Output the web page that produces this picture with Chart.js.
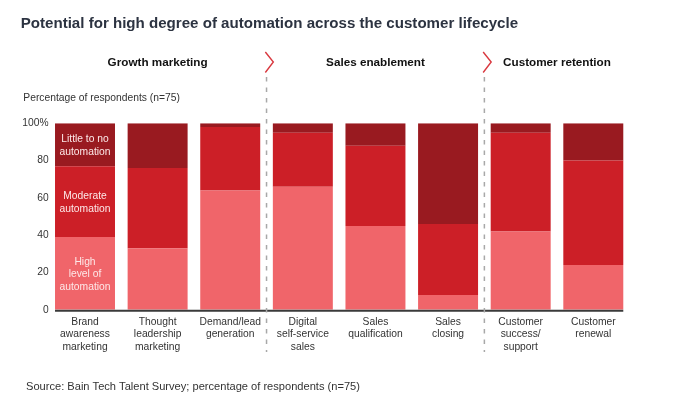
<!DOCTYPE html>
<html>
<head>
<meta charset="utf-8">
<script src="https://cdn.jsdelivr.net/npm/chart.js@4/dist/chart.umd.min.js"></script>
<style>
  html, body { margin: 0; padding: 0; background: #fff; }
  #wrap { width: 676px; height: 412px; position: relative; }
</style>
</head>
<body>
<div id="wrap"><canvas id="c" width="676" height="412"></canvas></div>
<script>
// ---- data ----
const titleText = "Potential for high degree of automation across the customer lifecycle";
const categories = [
  ["Brand", "awareness", "marketing"],
  ["Thought", "leadership", "marketing"],
  ["Demand/lead", "generation"],
  ["Digital", "self-service", "sales"],
  ["Sales", "qualification"],
  ["Sales", "closing"],
  ["Customer", "success/", "support"],
  ["Customer", "renewal"]
];
const seriesNames = ["High level of automation", "Moderate automation", "Little to no automation"];
const seriesLabelLines = [["High", "level of", "automation"], ["Moderate", "automation"], ["Little to no", "automation"]];
const highLevel = [39, 33, 64, 66, 45, 8, 42, 24];
const moderate = [38, 43, 34, 29, 43, 38, 53, 56];
const littleToNone = [23, 24, 2, 5, 12, 54, 5, 20];
const groupNames = ["Growth marketing", "Sales enablement", "Customer retention"];
const groupFirst = [0, 3, 6];
const groupLast = [2, 5, 7];
const yTickLabels = ["0", "20", "40", "60", "80", "100%"];
const yAxisNote = "Percentage of respondents (n=75)";
const sourceNote = "Source: Bain Tech Talent Survey; percentage of respondents (n=75)";

const colors = ["#F0656A", "#CC1F27", "#991A20"];
const FONT = "'Liberation Sans', Arial, Helvetica, sans-serif";

const decor = {
  id: 'decor',
  afterDraw(chart) {
    const ctx = chart.ctx;
    const xs = chart.scales.x, ys = chart.scales.y;
    const metas = [0, 1, 2].map(i => chart.getDatasetMeta(i));
    const bars = metas[0].data;
    const half = i => bars[i].width / 2;
    ctx.save();

    // axis line under bars
    const y0 = ys.getPixelForValue(0);
    ctx.strokeStyle = '#3a3a3a';
    ctx.lineWidth = 2;
    ctx.beginPath();
    ctx.moveTo(bars[0].x - half(0), y0 + 1);
    ctx.lineTo(bars[bars.length - 1].x + half(bars.length - 1), y0 + 1);
    ctx.stroke();

    // dividers + chevrons
    for (let g = 0; g < groupFirst.length - 1; g++) {
      const x = (xs.getPixelForValue(groupLast[g]) + xs.getPixelForValue(groupFirst[g + 1])) / 2;
      ctx.strokeStyle = '#a8a8a8';
      ctx.lineWidth = 1.5;
      ctx.setLineDash([4.5, 6]);
      ctx.beginPath();
      ctx.moveTo(x, 77);
      ctx.lineTo(x, 352);
      ctx.stroke();
      ctx.setLineDash([]);
      ctx.strokeStyle = '#D9383F';
      ctx.lineWidth = 1.4;
      ctx.beginPath();
      ctx.moveTo(x - 1.2, 52);
      ctx.lineTo(x + 6.8, 62);
      ctx.lineTo(x - 1.2, 72.5);
      ctx.stroke();
    }

    // group headers
    ctx.fillStyle = '#111';
    ctx.font = 'bold 11.7px ' + FONT;
    ctx.textAlign = 'center';
    ctx.textBaseline = 'middle';
    groupNames.forEach((name, g) => {
      const l = bars[groupFirst[g]].x - half(groupFirst[g]);
      const r = bars[groupLast[g]].x + half(groupLast[g]);
      ctx.fillText(name, (l + r) / 2, 63);
    });

    // notes
    ctx.fillStyle = '#333';
    ctx.font = '10.3px ' + FONT;
    ctx.textAlign = 'left';
    ctx.fillText(yAxisNote, 23.3, 98);
    ctx.font = '11.1px ' + FONT;
    ctx.fillText(sourceNote, 26, 387);

    // in-bar segment labels on first bar
    ctx.fillStyle = '#FDE8E8';
    ctx.font = '10.3px ' + FONT;
    ctx.textAlign = 'center';
    metas.forEach((m, i) => {
      const el = m.data[0];
      const cy = (el.y + el.base) / 2;
      const lines = seriesLabelLines[i];
      const lh = 12.3;
      lines.forEach((t, k) => {
        ctx.fillText(t, el.x, cy + (k - (lines.length - 1) / 2) * lh + 1);
      });
    });
    ctx.restore();
  }
};

new Chart(document.getElementById('c'), {
  type: 'bar',
  data: {
    labels: categories,
    datasets: [
      { label: seriesNames[0], data: highLevel, backgroundColor: colors[0] },
      { label: seriesNames[1], data: moderate, backgroundColor: colors[1] },
      { label: seriesNames[2], data: littleToNone, backgroundColor: colors[2] }
    ]
  },
  options: {
    responsive: false,
    animation: false,
    devicePixelRatio: 1,
    datasets: { bar: { barPercentage: 0.826, categoryPercentage: 1, borderWidth: 0 } },
    layout: { padding: { left: 20.7, right: 46.4, top: 0, bottom: 42.2 } },
    plugins: {
      legend: { display: false },
      tooltip: { enabled: false },
      title: {
        display: true,
        text: titleText,
        align: 'start',
        color: '#2C3341',
        font: { family: FONT, size: 15.1, weight: 'bold' },
        padding: { top: 15, bottom: 90.2 }
      }
    },
    scales: {
      x: {
        stacked: true,
        grid: { display: false, drawTicks: false },
        border: { display: false },
        ticks: { color: '#333', padding: 6, font: { family: FONT, size: 10.3, lineHeight: 1.2 }, maxRotation: 0, autoSkip: false },
        afterFit(s) { s.height = 60; }
      },
      y: {
        stacked: true,
        min: 0, max: 100,
        grid: { display: false, drawTicks: false },
        border: { display: false },
        ticks: {
          stepSize: 20, padding: 0, color: '#333',
          font: { family: FONT, size: 10.3 },
          callback: (v, i) => yTickLabels[i]
        },
        afterFit(s) { s.width = 28; }
      }
    }
  },
  plugins: [decor]
});
</script>
</body>
</html>
